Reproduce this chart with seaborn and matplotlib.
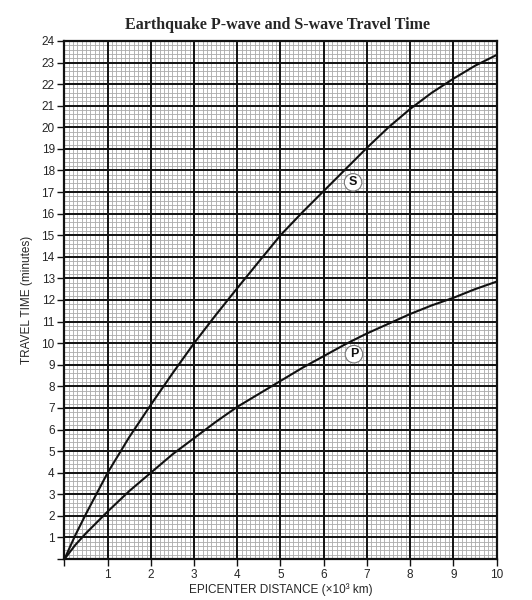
import numpy as np
import pandas as pd
import matplotlib
matplotlib.use('Agg')
import matplotlib.pyplot as plt
from matplotlib.ticker import MultipleLocator
import seaborn as sns

# values (distance in 10^3 km, time in minutes)
distance = [0, 0.25, 0.5, 1, 1.5, 2, 2.5, 3, 3.5, 4, 4.5, 5,
            5.5, 6, 6.5, 7, 7.5, 8, 8.5, 9, 9.5, 10]
s_wave = [0, 1.1, 2.1, 4.0, 5.65, 7.15, 8.6, 10.0, 11.3, 12.55, 13.78, 15.0,
          16.05, 17.05, 18.05, 19.05, 20.0, 20.85, 21.6, 22.25, 22.85, 23.35]
p_wave = [0, 0.65, 1.2, 2.2, 3.15, 4.0, 4.85, 5.6, 6.35, 7.05, 7.65, 8.25,
          8.85, 9.4, 9.95, 10.45, 10.9, 11.35, 11.75, 12.1, 12.5, 12.85]
x_ticks = list(range(0, 11))
y_ticks = list(range(0, 25))

df = pd.DataFrame({
    'distance': distance * 2,
    'time': s_wave + p_wave,
    'wave': ['S'] * len(distance) + ['P'] * len(distance),
})

sns.set_style('white')
plt.rcParams['font.family'] = ['Liberation Sans', 'DejaVu Sans']

fig = plt.figure(figsize=(5.32, 6.0), dpi=100)
ax = fig.add_axes([0.1212, 0.0683, 0.8121, 0.8634])

# graph-paper grid: fine gray grid, heavy lines on the whole units
ax.xaxis.set_minor_locator(MultipleLocator(0.1))
ax.yaxis.set_minor_locator(MultipleLocator(0.2))
ax.set_xticks(x_ticks)
ax.set_yticks(y_ticks)
ax.grid(which='minor', color='#aaaaaa', linewidth=0.6)
ax.grid(which='major', visible=False)
ax.set_axisbelow(True)
for v in x_ticks:
    ax.axvline(v, color='#111111', linewidth=1.4, zorder=1.5)
for v in y_ticks:
    ax.axhline(v, color='#111111', linewidth=1.4, zorder=1.5)

sns.lineplot(data=df, x='distance', y='time', hue='wave',
             palette={'S': '#111111', 'P': '#111111'},
             linewidth=1.5, legend=False, ax=ax, sort=True, zorder=3)

ax.set_xlim(0, 10)
ax.set_ylim(0, 24)
ax.set_xticklabels([''] + [str(v) for v in x_ticks[1:]])
ax.set_yticklabels([''] + [str(v) for v in y_ticks[1:]])
ax.tick_params(which='major', direction='out', length=5, width=1,
               color='#111111', labelsize=8.5, pad=2,
               left=True, bottom=True)
ax.tick_params(which='minor', length=0)
for sp in ax.spines.values():
    sp.set_color('#111111')
    sp.set_linewidth(1.6)

ax.set_xlabel('EPICENTER DISTANCE (\u00d710\u00b3 km)', fontsize=8.5, labelpad=2)
ax.set_ylabel('TRAVEL TIME (minutes)', fontsize=8.5, labelpad=6)

# curve labels
for txt, xv, yv in [('S', 6.68, 17.45), ('P', 6.70, 9.49)]:
    ax.text(xv, yv, txt, ha='center', va='center', fontsize=9,
            fontweight='bold', color='#111111', zorder=4,
            bbox=dict(boxstyle='circle,pad=0.22', fc='white',
                      ec='#777777', lw=0.8))

fig.text(0.521, 0.958, 'Earthquake P-wave and S-wave Travel Time',
         ha='center', va='center', fontsize=11.5, fontweight='bold',
         family=['Liberation Serif', 'DejaVu Serif'])

fig.savefig('out.png', dpi=100)
plt.close(fig)
